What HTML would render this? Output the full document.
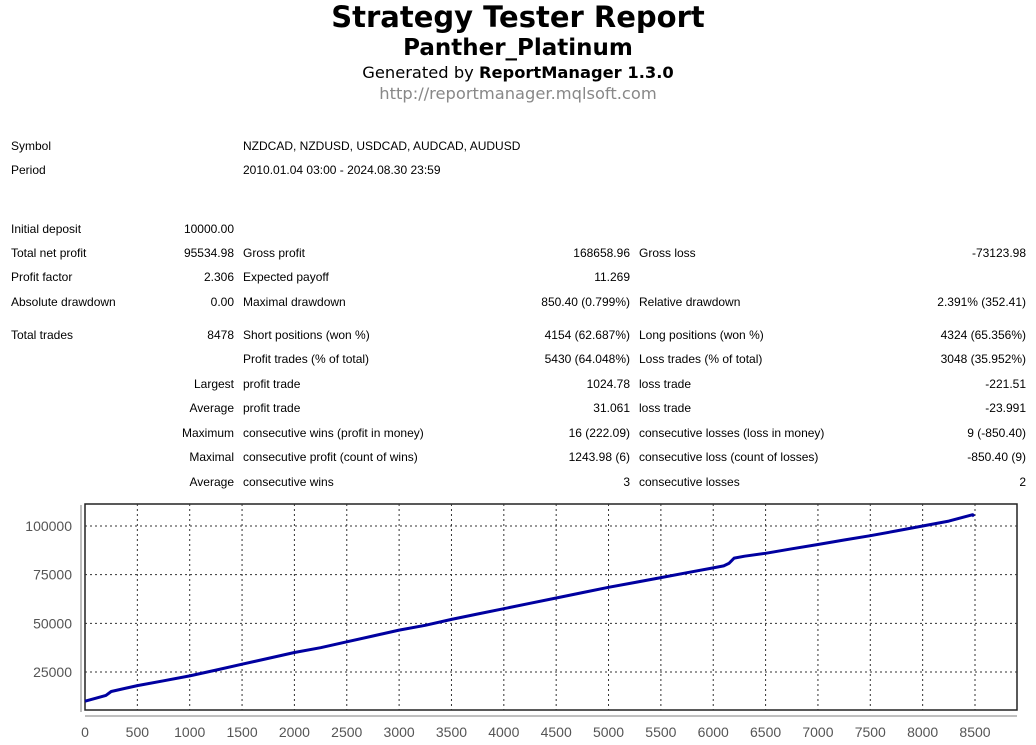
<!DOCTYPE html>
<html><head><meta charset="utf-8"><style>
body{margin:0;width:1036px;height:745px;background:#fff;position:relative;overflow:hidden;font-family:"Liberation Sans",sans-serif;color:#000}
.c{position:absolute;left:0;width:1036px;text-align:center;white-space:nowrap;font-family:"DejaVu Sans",sans-serif}
.t{position:absolute;font-size:12px;white-space:nowrap;line-height:14px}
.r{text-align:right}
</style></head><body>
<div class="c" style="top:0px;font-size:29px;font-weight:bold">Strategy Tester Report</div>
<div class="c" style="top:35px;font-size:23px;font-weight:bold">Panther_Platinum</div>
<div class="c" style="top:63px;font-size:16.3px">Generated by <b>ReportManager 1.3.0</b></div>
<div class="c" style="top:84px;font-size:16.3px;color:#888">http://reportmanager.mqlsoft.com</div>

<div>
<div class="t" style="left:11px;top:139px">Symbol</div><div class="t" style="left:243px;top:139px">NZDCAD, NZDUSD, USDCAD, AUDCAD, AUDUSD</div>
<div class="t" style="left:11px;top:163px">Period</div><div class="t" style="left:243px;top:163px">2010.01.04 03:00 - 2024.08.30 23:59</div>
<div class="t" style="left:11px;top:222px">Initial deposit</div><div class="t r" style="right:802px;top:222px">10000.00</div>

<div class="t" style="left:11px;top:246px">Total net profit</div><div class="t r" style="right:802px;top:246px">95534.98</div>
<div class="t" style="left:243px;top:246px">Gross profit</div><div class="t r" style="right:406px;top:246px">168658.96</div>
<div class="t" style="left:639px;top:246px">Gross loss</div><div class="t r" style="right:10px;top:246px">-73123.98</div>

<div class="t" style="left:11px;top:270px">Profit factor</div><div class="t r" style="right:802px;top:270px">2.306</div>
<div class="t" style="left:243px;top:270px">Expected payoff</div><div class="t r" style="right:406px;top:270px">11.269</div>

<div class="t" style="left:11px;top:295px">Absolute drawdown</div><div class="t r" style="right:802px;top:295px">0.00</div>
<div class="t" style="left:243px;top:295px">Maximal drawdown</div><div class="t r" style="right:406px;top:295px">850.40 (0.799%)</div>
<div class="t" style="left:639px;top:295px">Relative drawdown</div><div class="t r" style="right:10px;top:295px">2.391% (352.41)</div>

<div class="t" style="left:11px;top:328px">Total trades</div><div class="t r" style="right:802px;top:328px">8478</div>
<div class="t" style="left:243px;top:328px">Short positions (won %)</div><div class="t r" style="right:406px;top:328px">4154 (62.687%)</div>
<div class="t" style="left:639px;top:328px">Long positions (won %)</div><div class="t r" style="right:10px;top:328px">4324 (65.356%)</div>

<div class="t" style="left:243px;top:352px">Profit trades (% of total)</div><div class="t r" style="right:406px;top:352px">5430 (64.048%)</div>
<div class="t" style="left:639px;top:352px">Loss trades (% of total)</div><div class="t r" style="right:10px;top:352px">3048 (35.952%)</div>

<div class="t r" style="right:802px;top:377px">Largest</div>
<div class="t" style="left:243px;top:377px">profit trade</div><div class="t r" style="right:406px;top:377px">1024.78</div>
<div class="t" style="left:639px;top:377px">loss trade</div><div class="t r" style="right:10px;top:377px">-221.51</div>

<div class="t r" style="right:802px;top:401px">Average</div>
<div class="t" style="left:243px;top:401px">profit trade</div><div class="t r" style="right:406px;top:401px">31.061</div>
<div class="t" style="left:639px;top:401px">loss trade</div><div class="t r" style="right:10px;top:401px">-23.991</div>

<div class="t r" style="right:802px;top:426px">Maximum</div>
<div class="t" style="left:243px;top:426px">consecutive wins (profit in money)</div><div class="t r" style="right:406px;top:426px">16 (222.09)</div>
<div class="t" style="left:639px;top:426px">consecutive losses (loss in money)</div><div class="t r" style="right:10px;top:426px">9 (-850.40)</div>

<div class="t r" style="right:802px;top:450px">Maximal</div>
<div class="t" style="left:243px;top:450px">consecutive profit (count of wins)</div><div class="t r" style="right:406px;top:450px">1243.98 (6)</div>
<div class="t" style="left:639px;top:450px">consecutive loss (count of losses)</div><div class="t r" style="right:10px;top:450px">-850.40 (9)</div>

<div class="t r" style="right:802px;top:475px">Average</div>
<div class="t" style="left:243px;top:475px">consecutive wins</div><div class="t r" style="right:406px;top:475px">3</div>
<div class="t" style="left:639px;top:475px">consecutive losses</div><div class="t r" style="right:10px;top:475px">2</div>
</div>

<svg id="chart" width="1036" height="745" style="position:absolute;left:0;top:0" font-family="Liberation Sans, sans-serif"></svg>
<script>
const xTicks=[0,500,1000,1500,2000,2500,3000,3500,4000,4500,5000,5500,6000,6500,7000,7500,8000,8500];
const yTicks=[25000,50000,75000,100000];
const tradeIdx=[0,100,200,250,500,750,1000,1250,1500,1750,2000,2250,2500,2750,3000,3250,3500,3750,4000,4250,4500,4750,5000,5250,5500,5750,6000,6100,6150,6200,6300,6500,6750,7000,7250,7500,7750,8000,8250,8478,8490];
const balance=[10000,11500,13000,15000,18000,20500,23000,26000,29000,32000,35000,37500,40500,43500,46500,49000,52000,54800,57500,60300,63000,65800,68500,71000,73500,76000,78500,79500,80800,83500,84500,86000,88300,90500,92800,95000,97500,100000,102500,105800,105000];
const svg=document.getElementById('chart');const NS='http://www.w3.org/2000/svg';
const L=85,R=1017,T=504,B=710;
const xs=v=>L+v*(975-85)/8500;
const ys=v=>672-(v-25000)*(672-526)/75000;
function mk(t,a){const e=document.createElementNS(NS,t);for(const k in a)e.setAttribute(k,a[k]);svg.appendChild(e);return e;}
const frame=mk('rect',{x:L,y:T,width:R-L,height:B-T,fill:'none',stroke:'#222','stroke-width':1.5});


mk('line',{x1:81,y1:505,x2:81,y2:712,stroke:'#aaa','stroke-width':1.5});
mk('line',{x1:85,y1:716,x2:1017,y2:716,stroke:'#aaa','stroke-width':1.5});
xTicks.forEach(v=>{const x=xs(v);
 if(v>0){const g=mk('line',{x1:x,y1:T,x2:x,y2:B,stroke:'#333','stroke-dasharray':'2,3','stroke-width':1});
 }
 const t=mk('text',{x:x,y:737,'text-anchor':'middle','font-size':14,fill:'#555'});t.textContent=v;
 
 });
yTicks.forEach(v=>{const y=ys(v);
 const g=mk('line',{x1:L,y1:y,x2:R,y2:y,stroke:'#333','stroke-dasharray':'2,3','stroke-width':1});
 
 const t=mk('text',{x:72,y:y+5,'text-anchor':'end','font-size':14,fill:'#555'});t.textContent=v;
 
 });
const pts=tradeIdx.map((v,i)=>xs(v).toFixed(1)+','+ys(balance[i]).toFixed(1)).join(' ');
const line=mk('polyline',{points:pts,fill:'none',stroke:'#0000a0','stroke-width':3,'stroke-linejoin':'round'});


</script>
</body></html>
